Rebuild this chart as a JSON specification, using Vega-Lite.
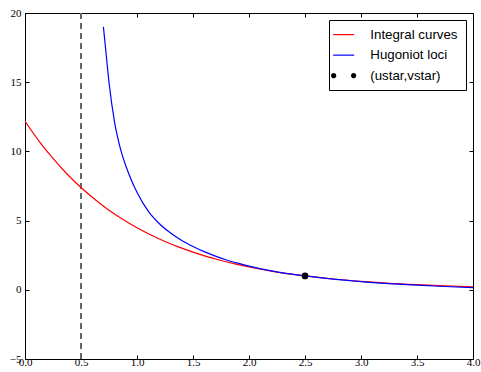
{
  "$schema": "https://vega.github.io/schema/vega-lite/v6.json",
  "autosize": "none",
  "padding": {"left": 25, "top": 13, "right": 8, "bottom": 13},
  "width": 448,
  "height": 346,
  "background": "white",
  "config": {
    "view": {"stroke": "black", "strokeWidth": 1},
    "axis": {
      "domainColor": "black", "domainWidth": 1, "tickColor": "black", "tickWidth": 1,
      "tickSize": -4, "grid": false, "title": null, "labelFlush": false, "labelOverlap": false,
      "labelFont": "Liberation Serif", "labelFontSize": 11, "labelColor": "black"
    },
    "legend": {
      "strokeColor": "black", "fillColor": "white", "padding": 8, "cornerRadius": 0,
      "labelFont": "Liberation Sans", "labelFontSize": 13.3, "labelColor": "black",
      "symbolSize": 441, "symbolStrokeWidth": 1.2, "labelOffset": 20, "rowPadding": 6.5
    }
  },
  "datasets": {
    "red": [
      {"u": 0.0, "v": 12.18, "s": "Integral curves"},
      {"u": 0.125, "v": 10.75, "s": "Integral curves"},
      {"u": 0.25, "v": 9.49, "s": "Integral curves"},
      {"u": 0.375, "v": 8.37, "s": "Integral curves"},
      {"u": 0.5, "v": 7.39, "s": "Integral curves"},
      {"u": 0.625, "v": 6.52, "s": "Integral curves"},
      {"u": 0.75, "v": 5.75, "s": "Integral curves"},
      {"u": 0.875, "v": 5.08, "s": "Integral curves"},
      {"u": 1.0, "v": 4.48, "s": "Integral curves"},
      {"u": 1.125, "v": 3.96, "s": "Integral curves"},
      {"u": 1.25, "v": 3.49, "s": "Integral curves"},
      {"u": 1.375, "v": 3.08, "s": "Integral curves"},
      {"u": 1.5, "v": 2.72, "s": "Integral curves"},
      {"u": 1.625, "v": 2.40, "s": "Integral curves"},
      {"u": 1.75, "v": 2.12, "s": "Integral curves"},
      {"u": 1.875, "v": 1.87, "s": "Integral curves"},
      {"u": 2.0, "v": 1.65, "s": "Integral curves"},
      {"u": 2.25, "v": 1.28, "s": "Integral curves"},
      {"u": 2.5, "v": 1.0, "s": "Integral curves"},
      {"u": 2.75, "v": 0.78, "s": "Integral curves"},
      {"u": 3.0, "v": 0.61, "s": "Integral curves"},
      {"u": 3.25, "v": 0.47, "s": "Integral curves"},
      {"u": 3.5, "v": 0.37, "s": "Integral curves"},
      {"u": 3.75, "v": 0.29, "s": "Integral curves"},
      {"u": 4.0, "v": 0.22, "s": "Integral curves"}
    ],
    "blue": [
      {"u": 0.7, "v": 19.0, "s": "Hugoniot loci"},
      {"u": 0.72, "v": 17.4, "s": "Hugoniot loci"},
      {"u": 0.75, "v": 15.0, "s": "Hugoniot loci"},
      {"u": 0.8, "v": 12.1, "s": "Hugoniot loci"},
      {"u": 0.85, "v": 10.26, "s": "Hugoniot loci"},
      {"u": 0.9, "v": 8.96, "s": "Hugoniot loci"},
      {"u": 0.95, "v": 7.92, "s": "Hugoniot loci"},
      {"u": 1.0, "v": 7.05, "s": "Hugoniot loci"},
      {"u": 1.1, "v": 5.68, "s": "Hugoniot loci"},
      {"u": 1.2, "v": 4.77, "s": "Hugoniot loci"},
      {"u": 1.3, "v": 4.10, "s": "Hugoniot loci"},
      {"u": 1.4, "v": 3.56, "s": "Hugoniot loci"},
      {"u": 1.5, "v": 3.13, "s": "Hugoniot loci"},
      {"u": 1.6, "v": 2.755, "s": "Hugoniot loci"},
      {"u": 1.7, "v": 2.437, "s": "Hugoniot loci"},
      {"u": 1.8, "v": 2.155, "s": "Hugoniot loci"},
      {"u": 1.9, "v": 1.922, "s": "Hugoniot loci"},
      {"u": 2.0, "v": 1.715, "s": "Hugoniot loci"},
      {"u": 2.2, "v": 1.37, "s": "Hugoniot loci"},
      {"u": 2.5, "v": 1.0, "s": "Hugoniot loci"},
      {"u": 2.8, "v": 0.734, "s": "Hugoniot loci"},
      {"u": 3.0, "v": 0.591, "s": "Hugoniot loci"},
      {"u": 3.25, "v": 0.449, "s": "Hugoniot loci"},
      {"u": 3.5, "v": 0.331, "s": "Hugoniot loci"},
      {"u": 3.75, "v": 0.238, "s": "Hugoniot loci"},
      {"u": 4.0, "v": 0.16, "s": "Hugoniot loci"}
    ],
    "pt": [{"u": 2.5, "v": 1.0, "s": "(ustar,vstar)"}],
    "vline": [{"u": 0.5}]
  },
  "encoding": {
    "x": {"field": "u", "type": "quantitative", "scale": {"domain": [0, 4], "nice": false, "zero": false}},
    "y": {"field": "v", "type": "quantitative", "scale": {"domain": [-5, 20], "nice": false, "zero": false}}
  },
  "layer": [
    {
      "data": {"name": "vline"},
      "mark": {"type": "rule", "color": "#666666", "strokeWidth": 2, "strokeDash": [6, 4]},
      "encoding": {
        "x": {"field": "u", "type": "quantitative", "axis": {"orient": "top", "labels": false, "values": [0, 0.5, 1, 1.5, 2, 2.5, 3, 3.5, 4], "domain": false}},
        "y": null
      }
    },
    {
      "data": {"name": "red"},
      "mark": {"type": "line", "strokeWidth": 1.2, "interpolate": "monotone", "clip": true},
      "encoding": {
        "x": {"field": "u", "type": "quantitative", "axis": {"orient": "bottom", "values": [0, 0.5, 1, 1.5, 2, 2.5, 3, 3.5, 4], "format": ".1f", "labelPadding": 1}},
        "y": {"field": "v", "type": "quantitative", "axis": {"orient": "left", "values": [-5, 0, 5, 10, 15, 20], "format": "d", "labelPadding": 8, "encode": {"labels": {"update": {"dy": {"signal": "datum.value == -5 ? -4 : 0"}}}}}},
        "color": {
          "field": "s", "type": "nominal",
          "scale": {"domain": ["Integral curves", "Hugoniot loci", "(ustar,vstar)"], "range": ["#ff0000", "#0000ff", "#000000"]},
          "legend": {
            "orient": "top-right", "offset": 7, "title": null,
            "encode": {
              "symbols": {
                "update": {
                  "shape": {"signal": "datum.value == '(ustar,vstar)' ? 'M-1.2,0a0.25,0.25 0 1,0 0.5,0a0.25,0.25 0 1,0 -0.5,0M0.7,0a0.25,0.25 0 1,0 0.5,0a0.25,0.25 0 1,0 -0.5,0' : 'stroke'"},
                  "fill": {"signal": "datum.value == '(ustar,vstar)' ? 'black' : 'transparent'"},
                  "strokeWidth": {"signal": "datum.value == '(ustar,vstar)' ? 0 : 1.2"}
                }
              }
            }
          }
        }
      }
    },
    {
      "data": {"name": "blue"},
      "mark": {"type": "line", "strokeWidth": 1.2, "interpolate": "monotone", "clip": true},
      "encoding": {
        "x": {"field": "u", "type": "quantitative", "axis": null},
        "y": {"field": "v", "type": "quantitative", "axis": {"orient": "right", "labels": false, "values": [-5, 0, 5, 10, 15, 20], "domain": false}},
        "color": {"field": "s", "type": "nominal"}
      }
    },
    {
      "data": {"name": "pt"},
      "mark": {"type": "point", "filled": true, "size": 45, "opacity": 1},
      "encoding": {
        "x": {"field": "u", "type": "quantitative", "axis": null},
        "y": {"field": "v", "type": "quantitative", "axis": null},
        "color": {"field": "s", "type": "nominal"}
      }
    }
  ],
  "resolve": {"axis": {"x": "independent", "y": "independent"}}
}
